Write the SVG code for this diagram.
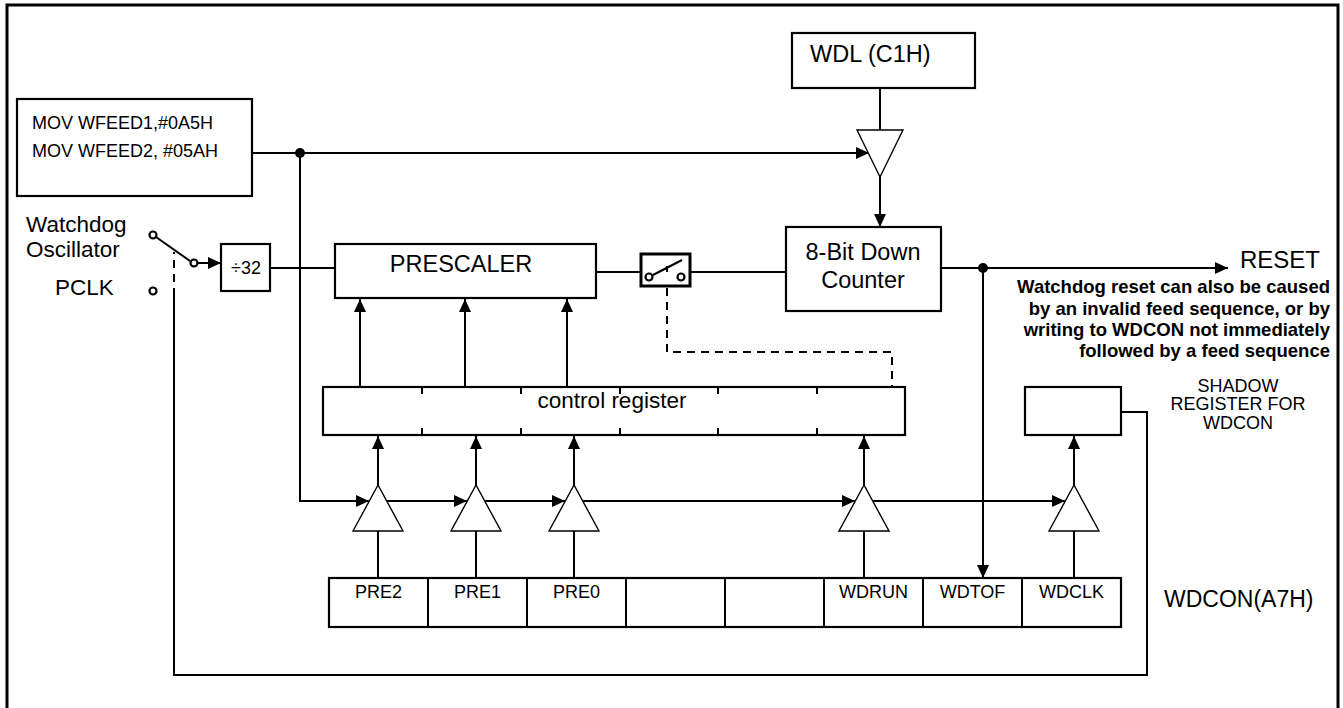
<svg xmlns="http://www.w3.org/2000/svg" width="1343" height="708" viewBox="0 0 1343 708">
<style>
  text { font-family: "Liberation Sans", Arial, sans-serif; fill: #000; }
  .box { fill: #fff; stroke: #000; stroke-width: 2.2; }
  .thick { fill: #fff; stroke: #000; stroke-width: 3; }
  .buf { fill: #fff; stroke: #000; stroke-width: 1.4; }
  .ln { fill: none; stroke: #000; stroke-width: 2; }
  .dash { fill: none; stroke: #000; stroke-width: 2; stroke-dasharray: 8 6; }
  .arr { fill: none; stroke: #000; stroke-width: 2; marker-end: url(#ah); }
  .dot { fill: #000; }
  .contact { fill: #fff; stroke: #000; stroke-width: 2.2; }
  .f18 { font-size: 18px; }
  .f22 { font-size: 22.5px; }
  .f23 { font-size: 23.5px; }
  .note { font-size: 18.5px; font-weight: bold; text-anchor: end; }
  .mid { text-anchor: middle; }
</style>
<defs>
  <marker id="ah" markerUnits="userSpaceOnUse" markerWidth="14" markerHeight="12" refX="13" refY="6" orient="auto" viewBox="0 0 14 12">
    <path d="M0,0 L13,6 L0,12 z" fill="#000"/>
  </marker>
</defs>

<rect x="7" y="5" width="1331" height="720" fill="none" stroke="#000" stroke-width="3"/>

<g id="connectors">
  <path class="arr" d="M252,153 H869"/>
  <path class="arr" d="M300,153 V501 H369"/>
  <path class="arr" d="M387,501 H467"/>
  <path class="arr" d="M485,501 H565"/>
  <path class="arr" d="M583,501 H855"/>
  <path class="arr" d="M873,501 H1065"/>
  <path class="ln" d="M880,88 V130"/>
  <path class="arr" d="M880,177 V227"/>
  <path class="ln" d="M270,268 H335"/>
  <path class="ln" d="M596,272 H641"/>
  <path class="ln" d="M690,272 H786"/>
  <path class="arr" d="M941,268 H1228"/>
  <path class="arr" d="M983,268 V578"/>
  <path class="arr" d="M360,387 V299"/>
  <path class="arr" d="M465,387 V299"/>
  <path class="arr" d="M567,387 V299"/>
  <path class="arr" d="M378,485 V436"/>
  <path class="arr" d="M476,485 V436"/>
  <path class="arr" d="M574,485 V436"/>
  <path class="arr" d="M864,485 V436"/>
  <path class="arr" d="M1074,485 V436"/>
  <path class="ln" d="M378,578 V531 M476,578 V531 M574,578 V531 M864,578 V531 M1074,578 V531"/>
  <path class="dash" d="M667,288 V352 H892 V387"/>
  <path class="ln" d="M1121,412 H1147 V675 H174 V296"/>
  <path class="dash" d="M174,296 V252" stroke-dasharray="7 5"/>
  <circle class="dot" cx="300" cy="153" r="5"/>
  <circle class="dot" cx="983" cy="268" r="5"/>
</g>

<g id="feed-sequence">
  <rect class="box" x="17" y="99" width="235" height="97"/>
  <text class="f18" x="32" y="129">MOV WFEED1,#0A5H</text>
  <text class="f18" x="32" y="157">MOV WFEED2, #05AH</text>
</g>

<g id="wdl">
  <rect class="box" x="792" y="33" width="183" height="55"/>
  <text class="f23" x="810" y="62">WDL (C1H)</text>
</g>

<g id="wdl-buffer">
  <polygon class="buf" points="857,130 903,130 880,177"/>
</g>

<g id="clock-select">
  <text class="f22" x="26" y="232">Watchdog</text>
  <text class="f22" x="26" y="257">Oscillator</text>
  <text class="f22" x="55" y="295">PCLK</text>
  <path class="ln" d="M156,237 L190,261"/>
  <path class="arr" d="M197,263 H221"/>
  <circle class="contact" cx="153" cy="235" r="3.5"/>
  <circle class="contact" cx="153" cy="291" r="3.5"/>
  <circle class="contact" cx="194" cy="263" r="3.5"/>
</g>

<g id="div32">
  <rect class="box" x="221" y="244" width="49" height="47"/>
  <text class="f18 mid" x="246" y="274">÷32</text>
</g>

<g id="prescaler">
  <rect class="box" x="335" y="244" width="261" height="54"/>
  <text class="f23 mid" x="461" y="272">PRESCALER</text>
</g>

<g id="run-switch">
  <rect class="thick" x="641" y="254" width="49" height="32"/>
  <path class="ln" d="M653,275 L682,260 M667,266 V272"/>
  <circle class="contact" cx="649" cy="277" r="3.5"/>
  <circle class="contact" cx="681" cy="277" r="3.5"/>
</g>

<g id="down-counter">
  <rect class="box" x="786" y="227" width="155" height="84"/>
  <text class="f23 mid" x="863" y="260">8-Bit Down</text>
  <text class="f23 mid" x="863" y="288">Counter</text>
</g>

<g id="reset">
  <text x="1240" y="268" style="font-size:24px">RESET</text>
  <text class="note" x="1330" y="293">Watchdog reset can also be caused</text>
  <text class="note" x="1330" y="315">by an invalid feed sequence, or by</text>
  <text class="note" x="1330" y="336">writing to WDCON not immediately</text>
  <text class="note" x="1330" y="357">followed by a feed sequence</text>
</g>

<g id="control-register">
  <rect class="box" x="323" y="387" width="582" height="48"/>
  <path class="ln" d="M422,387 V394 M521,387 V394 M620,387 V394 M718,387 V394 M817,387 V394 M422,428 V435 M521,428 V435 M620,428 V435 M718,428 V435 M817,428 V435"/>
  <text class="mid" x="612" y="408" style="font-size:22.5px">control register</text>
</g>

<g id="shadow-register">
  <rect class="box" x="1025" y="387" width="96" height="48"/>
  <text class="f18 mid" x="1238" y="392">SHADOW</text>
  <text class="f18 mid" x="1238" y="410">REGISTER FOR</text>
  <text class="f18 mid" x="1238" y="429">WDCON</text>
</g>

<g id="buffer-pre2"><polygon class="buf" points="378,485 353,531 403,531"/></g>
<g id="buffer-pre1"><polygon class="buf" points="476,485 451,531 501,531"/></g>
<g id="buffer-pre0"><polygon class="buf" points="574,485 549,531 599,531"/></g>
<g id="buffer-wdrun"><polygon class="buf" points="864,485 839,531 889,531"/></g>
<g id="buffer-wdclk"><polygon class="buf" points="1074,485 1049,531 1099,531"/></g>

<g id="wdcon">
  <rect class="box" x="329" y="578" width="792" height="49"/>
  <path class="ln" d="M428,578 V627 M527,578 V627 M626,578 V627 M725,578 V627 M824,578 V627 M923,578 V627 M1022,578 V627"/>
  <text class="f18 mid" x="378.5" y="598">PRE2</text>
  <text class="f18 mid" x="477.5" y="598">PRE1</text>
  <text class="f18 mid" x="576.5" y="598">PRE0</text>
  <text class="f18 mid" x="873.5" y="598">WDRUN</text>
  <text class="f18 mid" x="972.5" y="598">WDTOF</text>
  <text class="f18 mid" x="1071.5" y="598">WDCLK</text>
  <text x="1164" y="607" style="font-size:23px">WDCON(A7H)</text>
</g>
</svg>
